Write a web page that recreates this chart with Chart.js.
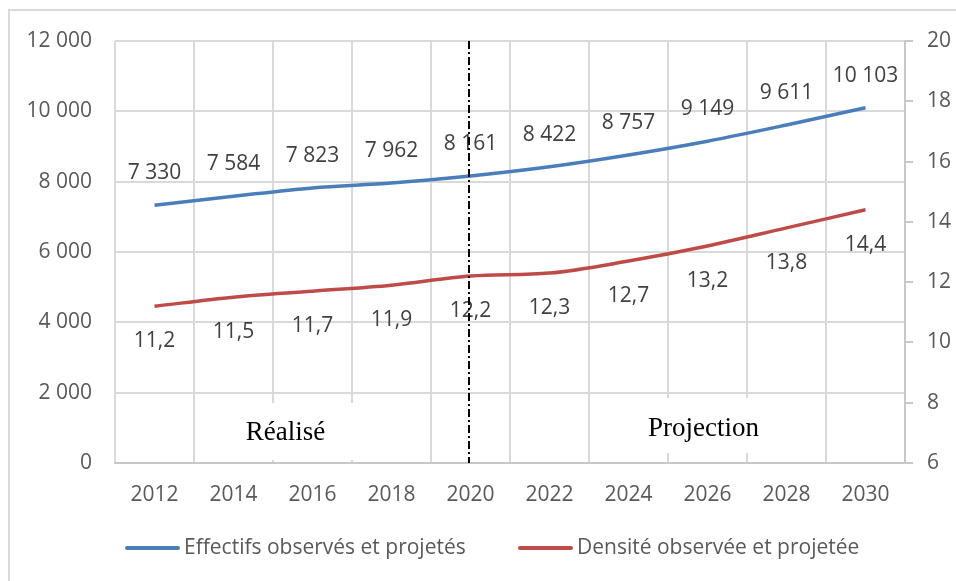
<!DOCTYPE html>
<html>
<head>
<meta charset="utf-8">
<script src="https://cdn.jsdelivr.net/npm/chart.js@4.4.1/dist/chart.umd.min.js"></script>
<style>
  html, body { margin: 0; padding: 0; background: #fff; }
  #wrap { position: relative; width: 956px; height: 581px; overflow: hidden; }
  #frame { position: absolute; left: 8px; top: 9px; width: 1000px; height: 700px;
           border-top: 2px solid #d9d9d9; border-left: 2px solid #d9d9d9; }
  #chart { position: absolute; left: 0; top: 0; }
</style>
</head>
<body>
<div id="wrap">
  <div id="frame"></div>
  <canvas id="chart" width="956" height="581"></canvas>
</div>
<script>
// data
const years = ['2012', '2014', '2016', '2018', '2020', '2022', '2024', '2026', '2028', '2030'];
const effectifs = [7330, 7584, 7823, 7962, 8161, 8422, 8757, 9149, 9611, 10103];
const densite = [11.2, 11.5, 11.7, 11.9, 12.2, 12.3, 12.7, 13.2, 13.8, 14.4];
const leftTicks = [0, 2000, 4000, 6000, 8000, 10000, 12000];
const rightTicks = [6, 8, 10, 12, 14, 16, 18, 20];
const seriesNames = ['Effectifs observés et projetés', 'Densité observée et projetée'];
const splitYear = '2020';

const BLUE = '#4a7ebb';
const RED = '#be4b48';
const FONT = '"Open Sans", sans-serif';

function fmtThousands(v) {
  return String(Math.round(v)).replace(/\B(?=(\d{3})+(?!\d))/g, ' ');
}
function fmtDecimal(v) {
  return v.toFixed(1).replace('.', ',');
}

// labels on points
const pointLabels = {
  id: 'pointLabels',
  afterDatasetsDraw(chart) {
    const ctx = chart.ctx;
    ctx.save();
    ctx.font = '21px ' + FONT;
    ctx.fillStyle = '#404040';
    ctx.textAlign = 'center';
    ctx.textBaseline = 'middle';
    chart.data.datasets.forEach((ds, i) => {
      const meta = chart.getDatasetMeta(i);
      meta.data.forEach((pt, j) => {
        const txt = i === 0 ? fmtThousands(ds.data[j]) : fmtDecimal(ds.data[j]);
        const dy = i === 0 ? -32 : 35;
        ctx.fillText(txt, pt.x, pt.y + dy);
      });
    });
    ctx.restore();
  }
};

// Réalisé / Projection boxes + split line + legend
const annotations = {
  id: 'annotations',
  beforeDatasetsDraw(chart) {
    const ctx = chart.ctx;
    const x = chart.scales.x;
    const bottom = chart.chartArea.bottom;
    ctx.save();
    ctx.font = '27px "Liberation Serif", serif';
    ctx.textAlign = 'center';
    ctx.textBaseline = 'middle';
    const boxes = [
      { text: 'Réalisé', cx: x.getPixelForValue(2) - 27, top: bottom - 60, h: 57, w: 150, ty: bottom - 30 },
      { text: 'Projection', cx: x.getPixelForValue(7) - 4, top: bottom - 65, h: 55, w: 190, ty: bottom - 34 }
    ];
    boxes.forEach(b => {
      ctx.fillStyle = '#fff';
      ctx.fillRect(b.cx - b.w / 2, b.top, b.w, b.h);
      ctx.fillStyle = '#000';
      ctx.fillText(b.text, b.cx, b.ty);
    });
    ctx.restore();
  },
  afterDraw(chart) {
    const ctx = chart.ctx;
    const area = chart.chartArea;
    const xs = chart.scales.x;
    const px = Math.round(xs.getPixelForValue(years.indexOf(splitYear))) - 2;
    ctx.save();
    ctx.strokeStyle = '#000';
    ctx.lineWidth = 2;
    ctx.setLineDash([8, 3, 2, 3]);
    ctx.beginPath();
    ctx.moveTo(px, area.top);
    ctx.lineTo(px, area.bottom);
    ctx.stroke();
    ctx.restore();

    // legend
    ctx.save();
    ctx.font = '21px ' + FONT;
    ctx.fillStyle = '#595959';
    ctx.textBaseline = 'middle';
    const ly = 548;
    const starts = [125, 518];
    chart.data.datasets.forEach((ds, i) => {
      const sx = starts[i];
      ctx.strokeStyle = ds.borderColor;
      ctx.lineWidth = 4;
      ctx.lineCap = 'round';
      ctx.beginPath();
      ctx.moveTo(sx + 2, ly);
      ctx.lineTo(sx + 53, ly);
      ctx.stroke();
      ctx.fillText(ds.label, sx + 59, ly);
    });
    ctx.restore();
  }
};

const chart = new Chart(document.getElementById('chart').getContext('2d'), {
  type: 'line',
  data: {
    labels: years,
    datasets: [
      {
        label: seriesNames[0],
        data: effectifs,
        yAxisID: 'y',
        borderColor: BLUE,
        backgroundColor: BLUE,
        borderWidth: 3.5,
        pointRadius: 0,
        cubicInterpolationMode: 'monotone'
      },
      {
        label: seriesNames[1],
        data: densite,
        yAxisID: 'y1',
        borderColor: RED,
        backgroundColor: RED,
        borderWidth: 3.5,
        pointRadius: 0,
        cubicInterpolationMode: 'monotone'
      }
    ]
  },
  options: {
    responsive: false,
    animation: false,
    layout: { padding: { top: 41, left: 0, right: 0, bottom: 0 } },
    plugins: {
      legend: { display: false },
      tooltip: { enabled: false }
    },
    scales: {
      x: {
        offset: true,
        grid: { color: '#d9d9d9', lineWidth: 2, offset: true, drawTicks: false },
        border: { color: '#c8c8c8', width: 2 },
        ticks: { color: '#595959', font: { family: FONT, size: 21 }, padding: 19, maxRotation: 0 },
        afterFit(s) { s.height = 118; }
      },
      y: {
        position: 'left',
        min: 0,
        max: 12000,
        afterBuildTicks(s) { s.ticks = leftTicks.map(v => ({ value: v })); },
        grid: { color: '#d9d9d9', lineWidth: 2, drawTicks: false },
        border: { display: false },
        ticks: {
          color: '#595959',
          font: { family: FONT, size: 21 },
          padding: 23,
          callback: v => fmtThousands(v)
        },
        afterFit(s) { s.width = 115; }
      },
      y1: {
        position: 'right',
        min: 6,
        max: 20,
        afterBuildTicks(s) { s.ticks = rightTicks.map(v => ({ value: v })); },
        grid: { drawOnChartArea: false, color: '#c8c8c8', lineWidth: 2, tickLength: 8 },
        border: { color: '#c8c8c8', width: 2 },
        ticks: { color: '#595959', font: { family: FONT, size: 21 }, padding: 14 },
        afterFit(s) { s.width = 51; }
      }
    }
  },
  plugins: [annotations, pointLabels]
});
</script>
</body>
</html>
